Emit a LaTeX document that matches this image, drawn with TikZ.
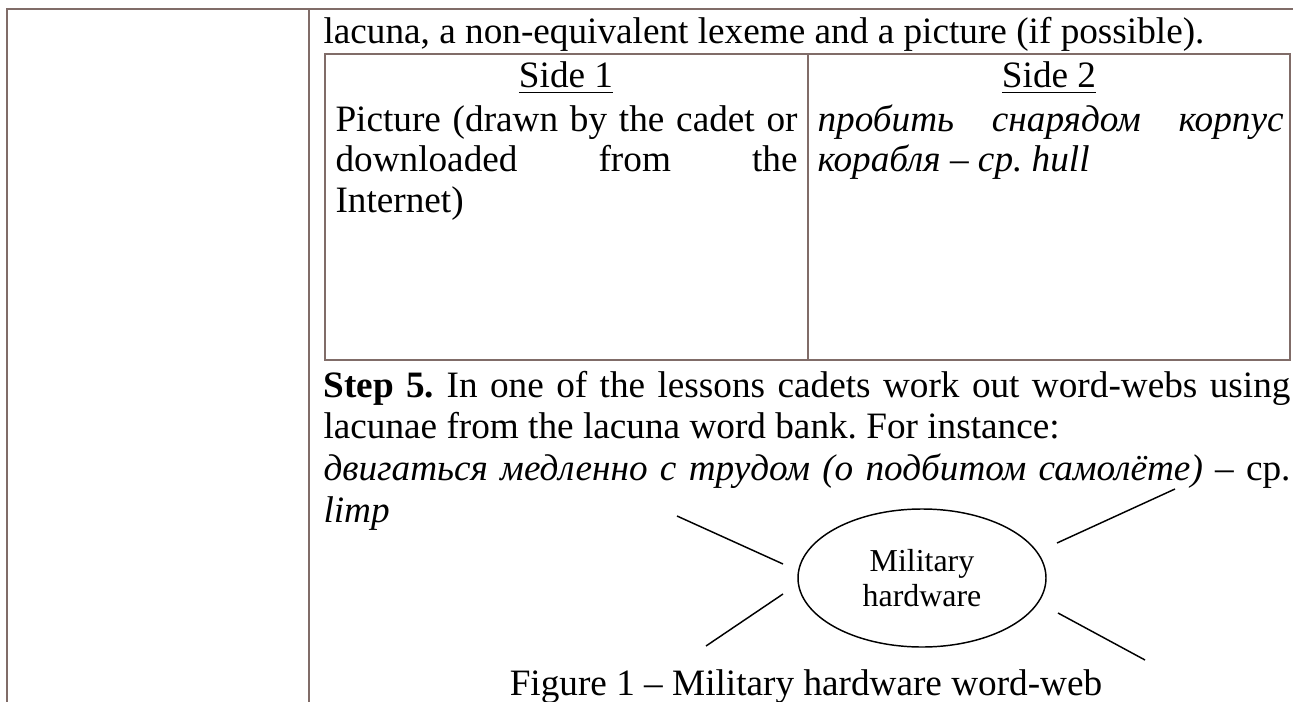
\documentclass[tikz,border=0pt]{standalone}
\usepackage{fontspec}
\setmainfont{Liberation Serif}
\usepackage{tikz}
\usetikzlibrary{positioning}
\usetikzlibrary{shapes.geometric}

\definecolor{rulecol}{RGB}{128,108,104}
\newlength{\pxu}
\setlength{\pxu}{0.376pt}
\newcommand{\jline}[2]{\makebox[#1\pxu][s]{#2}}
\frenchspacing

\begin{document}
\begin{tikzpicture}[x=\pxu,y=-\pxu,
  txt/.style={inner sep=0pt,anchor=base west,font=\fontsize{14}{16}\selectfont},
  rule/.style={rulecol,line width=0.75pt},
  spoke/.style={black,line width=0.55pt},
  web/.style={draw,ellipse,line width=0.55pt,inner sep=0pt,align=center,
    minimum width=248\pxu,minimum height=138\pxu,
    font=\fontsize{12}{13.2}\selectfont}]

\useasboundingbox (0,0) rectangle (1293,702);

% outer table
\draw[rule] (1293,9) -- (7,9) -- (7,702);
\draw[rule] (309,9) -- (309,702);

% inner table
\draw[rule] (325,54) rectangle (1290,360);
\draw[rule] (808,54) -- (808,360);

\node[txt] (intro) at (323,44) {lacuna, a non-equivalent lexeme and a picture (if possible).};

% --- Header Row ---
\node[txt,anchor=base] (side1) at (566,88) {\underline{Side 1}};
\node[txt,anchor=base] (side2) at (1049,88) {\underline{Side 2}};

% --- Side 1 ---
\node[txt] (pic1) at (335,131) {\jline{462}{Picture (drawn by the cadet or}};
\node[txt] (pic2) at (335,172) {\jline{462}{downloaded from the}};
\node[txt] (pic3) at (335,213) {Internet)};

% --- Side 2 ---
\node[txt] (rus1) at (817,131) {\jline{466}{\itshape пробить снарядом корпус}};
\node[txt] (rus2) at (817,172) {\textit{корабля – ср. hull}};

% text below the table
\node[txt] (step1) at (323,397) {\jline{967}{\textbf{Step 5.} In one of the lessons cadets work out word-webs using}};
\node[txt] (step2) at (323,438) {lacunae from the lacuna word bank. For instance:};
\node[txt] (step3) at (323,480) {\jline{967}{\textit{двигаться медленно с трудом (о подбитом самолёте)} – ср.}};
\node[txt] (step4) at (323,522) {\textit{limp}};

% word-web
\node[web] (hw) at (922,578) {Military\\hardware};

\coordinate (ula) at (677,516);
\coordinate (ulb) at (783,564);
\coordinate (lla) at (783,594);
\coordinate (llb) at (706,646);
\coordinate (ura) at (1057,543);
\coordinate (urb) at (1175,489);
\coordinate (lra) at (1058,613);
\coordinate (lrb) at (1145,660);

\draw[spoke] (ula) -- (ulb);
\draw[spoke] (lla) -- (llb);
\draw[spoke] (ura) -- (urb);
\draw[spoke] (lra) -- (lrb);

\node[txt,anchor=base] (caption) at (806,695) {Figure 1 – Military hardware word-web};

\end{tikzpicture}
\end{document}
